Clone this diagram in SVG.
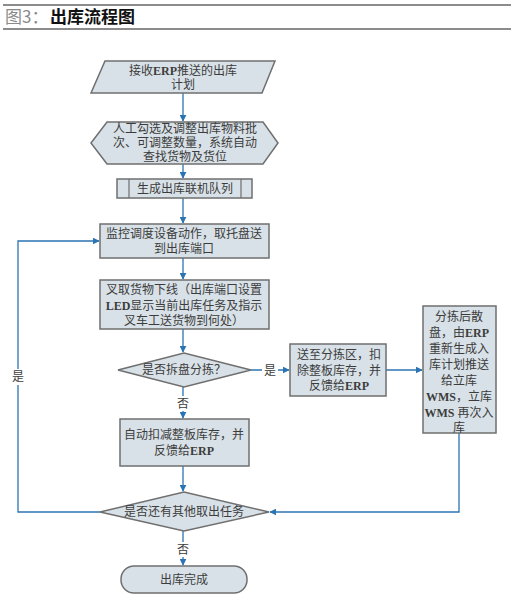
<svg xmlns="http://www.w3.org/2000/svg" width="511" height="599" viewBox="0 0 511 599">
<defs>
<marker id="ah" viewBox="0 0 10 10" refX="9" refY="5" markerWidth="7" markerHeight="7" markerUnits="userSpaceOnUse" orient="auto">
<path d="M0,0 L10,5 L0,10 z" fill="#2b74b4"/>
</marker>
<style>
.n{fill:#d8e1e7;stroke:#6f6f6f;stroke-width:1.5}
.t{font-family:"Liberation Serif","Noto Sans CJK SC",serif;font-size:12px;fill:#3c3c3c;text-anchor:middle}
.b{font-weight:bold}
.c{fill:none;stroke:#2b74b4;stroke-width:1.3}
.lbl{font-family:"Liberation Serif","Noto Sans CJK SC",serif;font-size:12px;fill:#3c3c3c;text-anchor:middle}
</style>
</defs>
<rect width="511" height="599" fill="#ffffff"/>
<g id="title">
<line x1="3" y1="5" x2="511" y2="5" stroke="#8c8c8c" stroke-width="2"/>
<line x1="3" y1="29" x2="511" y2="29" stroke="#8c8c8c" stroke-width="2"/>
<text x="5" y="23" font-family="'Noto Sans CJK SC',sans-serif" font-size="17" fill="#8a8a8a">图3：</text>
<text x="50" y="23" font-family="'Noto Sans CJK SC',sans-serif" font-size="17" font-weight="bold" fill="#111">出库流程图</text>
</g>
<g id="connectors">
<line class="c" x1="183" y1="93" x2="183" y2="121" marker-end="url(#ah)"/>
<line class="c" x1="183" y1="164" x2="183" y2="178" marker-end="url(#ah)"/>
<line class="c" x1="183" y1="198" x2="183" y2="223" marker-end="url(#ah)"/>
<line class="c" x1="183" y1="258" x2="183" y2="279" marker-end="url(#ah)"/>
<line class="c" x1="183" y1="329" x2="183" y2="352" marker-end="url(#ah)"/>
<line class="c" x1="251" y1="370" x2="289" y2="370" marker-end="url(#ah)"/>
<line class="c" x1="386" y1="370" x2="422" y2="370" marker-end="url(#ah)"/>
<line class="c" x1="183" y1="387" x2="183" y2="418" marker-end="url(#ah)"/>
<line class="c" x1="183" y1="466" x2="183" y2="491" marker-end="url(#ah)"/>
<polyline class="c" points="459,433 459,512 270,512" marker-end="url(#ah)"/>
<polyline class="c" points="100,512 18,512 18,241 99,241" marker-end="url(#ah)"/>
<line class="c" x1="183" y1="531" x2="183" y2="565" marker-end="url(#ah)"/>
<rect x="262" y="362" width="16" height="16" fill="#fff"/>
<text class="lbl" x="270" y="375">是</text>
<rect x="175" y="396" width="16" height="15" fill="#fff"/>
<text class="lbl" x="183" y="408">否</text>
<rect x="10" y="369" width="16" height="16" fill="#fff"/>
<text class="lbl" x="18" y="381">是</text>
<rect x="175" y="542" width="16" height="15" fill="#fff"/>
<text class="lbl" x="183" y="554">否</text>
</g>
<g id="n1">
<polygon class="n" points="105,61 275,61 262,93 91,93"/>
<text class="t" x="183" y="75">接收<tspan class="b">ERP</tspan>推送的出库</text>
<text class="t" x="183" y="89">计划</text>
</g>
<g id="n2">
<polygon class="n" points="107,122 263,122 278,143 263,164 107,164 91,143"/>
<text class="t" x="185" y="133">人工勾选及调整出库物料批</text>
<text class="t" x="185" y="147">次、可调整数量，系统自动</text>
<text class="t" x="185" y="161">查找货物及货位</text>
</g>
<g id="n3">
<rect class="n" x="117" y="179" width="135" height="19"/>
<line x1="129" y1="179" x2="129" y2="198" stroke="#6f6f6f" stroke-width="1.2"/>
<line x1="241" y1="179" x2="241" y2="198" stroke="#6f6f6f" stroke-width="1.2"/>
<text class="t" x="185" y="193">生成出库联机队列</text>
</g>
<g id="n4">
<rect class="n" x="100" y="224" width="169" height="34"/>
<text class="t" x="184" y="238">监控调度设备动作，取托盘送</text>
<text class="t" x="184" y="253">到出库端口</text>
</g>
<g id="n5">
<rect class="n" x="100" y="280" width="169" height="49"/>
<text class="t" x="184" y="294">叉取货物下线（出库端口设置</text>
<text class="t" x="184" y="310"><tspan class="b">LED</tspan>显示当前出库任务及指示</text>
<text class="t" x="184" y="325">叉车工送货物到何处）</text>
</g>
<g id="n6">
<polygon class="n" points="118,370 184,353 251,370 184,387"/>
<text class="t" x="184" y="374">是否拆盘分拣？</text>
</g>
<g id="n7">
<rect class="n" x="290" y="344" width="96" height="52"/>
<text class="t" x="339" y="359">送至分拣区，扣</text>
<text class="t" x="339" y="375">除整板库存，并</text>
<text class="t" x="339" y="390">反馈给<tspan class="b">ERP</tspan></text>
</g>
<g id="n8">
<rect class="n" x="423" y="306" width="73" height="127"/>
<text class="t" x="459" y="321">分拣后散</text>
<text class="t" x="459" y="337">盘，由<tspan class="b">ERP</tspan></text>
<text class="t" x="459" y="353">重新生成入</text>
<text class="t" x="459" y="369">库计划推送</text>
<text class="t" x="459" y="385">给立库</text>
<text class="t" x="459" y="401"><tspan class="b">WMS</tspan>，立库</text>
<text class="t" x="459" y="417"><tspan class="b">WMS</tspan> 再次入</text>
<text class="t" x="459" y="432">库</text>
</g>
<g id="n9">
<rect class="n" x="120" y="419" width="129" height="47"/>
<text class="t" x="184" y="439">自动扣减整板库存，并</text>
<text class="t" x="184" y="455">反馈给<tspan class="b">ERP</tspan></text>
</g>
<g id="n10">
<polygon class="n" points="100,512 184,492 269,512 184,531"/>
<text class="t" x="184" y="516">是否还有其他取出任务</text>
</g>
<g id="n11">
<rect class="n" x="121" y="566" width="126" height="27" rx="13" ry="13"/>
<text class="t" x="184" y="584">出库完成</text>
</g>
</svg>
